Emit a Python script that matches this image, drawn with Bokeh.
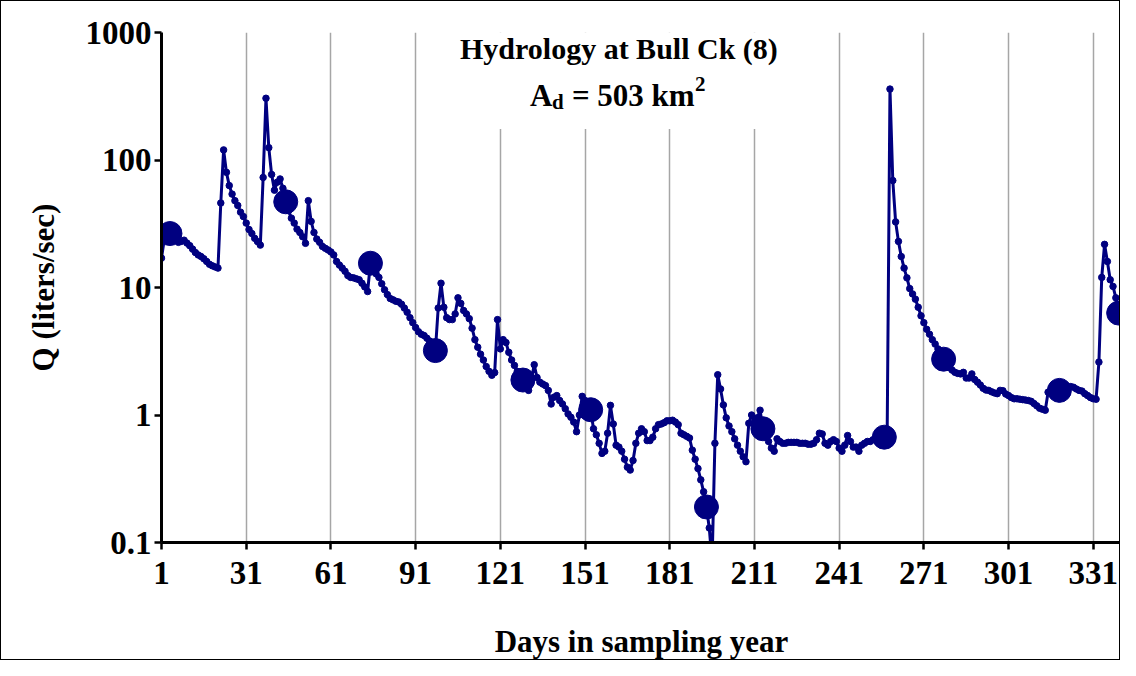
from bokeh.plotting import figure
from bokeh.models import (Range1d, FixedTicker, Label, BoxAnnotation,
                          ColumnDataSource, CustomJSTickFormatter)
from bokeh.embed import file_html
from bokeh.resources import INLINE

# ---------------- data ----------------
flow = [
    17, 24, 26, 26.5, 25, 23.5, 22.6, 23, 23.5, 22.3,
    21.3, 20, 18.8, 18, 17.5, 16.8, 16, 15.2, 14.8, 14.5,
    14.2, 46, 120, 80, 63, 54, 48, 44, 39, 36,
    32, 28.5, 26.5, 24.3, 22.9, 21.5, 73, 305, 125, 77,
    58, 67, 71, 60, 47, 40, 35, 32, 28.7, 27,
    25, 22.2, 48, 33, 27, 24, 22.6, 21, 20.3, 19.7,
    19, 18, 16, 15, 14.2, 13.4, 12.4, 12, 11.9, 11.7,
    11.5, 10.8, 10.1, 9.3, 15.5, 13.5, 12.8, 12, 10.7, 9.6,
    8.8, 8.2, 8, 7.8, 7.7, 7.4, 6.9, 6.4, 5.8, 5.3,
    4.85, 4.5, 4.3, 4.2, 4, 3.8, 3.3, 3.2, 6.9, 10.8,
    7, 5.8, 5.6, 5.6, 6.2, 8.3, 7.5, 6.6, 6.2, 5.7,
    4.8, 3.9, 3.4, 3, 2.7, 2.4, 2.2, 2.05, 2.15, 5.6,
    3.3, 3.9, 3.7, 3.1, 2.7, 2.45, 2.2, 2, 1.88, 1.7,
    1.56, 1.9, 2.48, 1.97, 1.81, 1.75, 1.7, 1.56, 1.22, 1.38,
    1.42, 1.3, 1.22, 1.12, 1.02, 0.96, 0.88, 0.74, 1.0, 1.4,
    1.3, 1.2, 1.1, 0.78, 0.7, 0.6, 0.5, 0.52, 0.72, 1.19,
    0.85, 0.58, 0.56, 0.52, 0.45, 0.39, 0.37, 0.44, 0.6, 0.72,
    0.78, 0.74, 0.63, 0.63, 0.67, 0.78, 0.84, 0.85, 0.87, 0.9,
    0.9, 0.91, 0.88, 0.84, 0.72, 0.7, 0.68, 0.66, 0.53, 0.45,
    0.38, 0.31, 0.25, 0.19, 0.13, 0.07, 0.6, 2.07, 1.6, 1.2,
    0.95, 0.82, 0.74, 0.65, 0.58, 0.52, 0.47, 0.43, 0.86, 1.0,
    0.88, 0.95, 1.09, 0.78, 0.75, 0.62, 0.55, 0.52, 0.65, 0.62,
    0.6, 0.6, 0.61, 0.61, 0.61, 0.61, 0.6, 0.6, 0.6, 0.59,
    0.59, 0.6, 0.64, 0.72, 0.71, 0.6, 0.58, 0.62, 0.64, 0.62,
    0.55, 0.52, 0.58, 0.69, 0.62, 0.56, 0.56, 0.52, 0.58, 0.6,
    0.62, 0.62, 0.64, 0.65, 0.66, 0.67, 0.67, 0.68, 360, 69,
    32.7, 23, 17.5, 14.2, 11.9, 9.8, 8.9, 8.1, 7, 6,
    5.3, 4.7, 4.3, 3.9, 3.6, 3.3, 3, 2.74, 2.5, 2.35,
    2.25, 2.16, 2.12, 2.1, 2.16, 1.95, 1.95, 2.1, 1.9, 1.81,
    1.72, 1.62, 1.57, 1.56, 1.52, 1.49, 1.47, 1.56, 1.55, 1.46,
    1.42, 1.37, 1.34, 1.34, 1.33, 1.32, 1.31, 1.3, 1.28, 1.23,
    1.18, 1.13, 1.11, 1.09, 1.51, 1.53, 1.55, 1.56, 1.56, 1.58,
    1.62, 1.66, 1.67, 1.65, 1.6, 1.56, 1.54, 1.47, 1.42, 1.37,
    1.34, 1.33, 2.6, 12, 21.8, 16, 11.5, 10.2, 8.3, 6.3,
]
days = list(range(1, len(flow) + 1))

sample_days = [4, 45, 75, 98, 129, 153, 194, 214, 257, 278, 319, 340]
sample_flow = [26.5, 47, 15.5, 3.2, 1.88, 1.1, 0.19, 0.78, 0.67, 2.74, 1.56, 6.3]

x_ticks = [1, 31, 61, 91, 121, 151, 181, 211, 241, 271, 301, 331]
y_ticks = [0.1, 1, 10, 100, 1000]

title_text = "Hydrology at Bull Ck (8)"
area_main = "A"
area_sub = "d"
area_rest = "= 503 km"
area_sup = "2"
x_label = "Days in sampling year"
y_label = "Q (liters/sec)"

# ---------------- figure ----------------
NAVY = "#000080"
FONT = "Liberation Serif"

p = figure(width=1120, height=660, y_axis_type="log",
           x_range=Range1d(1, 341), y_range=Range1d(0.1, 1000),
           output_backend="svg", toolbar_location=None,
           min_border_left=160, min_border_top=31,
           min_border_bottom=113, min_border_right=0)
p.styles = {"border": "1px solid black"}
p.outline_line_color = None
p.background_fill_color = "white"
p.border_fill_color = "white"

src = ColumnDataSource(dict(day=days, q=flow))
smp = ColumnDataSource(dict(day=sample_days, q=sample_flow))

p.line("day", "q", source=src, line_color=NAVY, line_width=3)
p.scatter("day", "q", source=src, size=6.5, color=NAVY)
p.scatter("day", "q", source=smp, size=24, color=NAVY)

# axes
for ax in (p.xaxis[0], p.yaxis[0]):
    ax.axis_line_width = 3
    ax.axis_line_color = "black"
    ax.major_tick_line_width = 2.5
    ax.major_tick_line_color = "black"
    ax.major_tick_out = 7
    ax.major_tick_in = 0
    ax.minor_tick_line_color = None
    ax.major_label_text_font = FONT
    ax.major_label_text_font_style = "bold"
    ax.major_label_text_font_size = "33px"
    ax.major_label_text_color = "black"
    ax.axis_label_text_font = FONT
    ax.axis_label_text_font_style = "bold"
    ax.axis_label_text_font_size = "31px"
    ax.axis_label_text_color = "black"

p.xaxis.ticker = FixedTicker(ticks=x_ticks)
p.yaxis.ticker = FixedTicker(ticks=y_ticks)
p.yaxis.formatter = CustomJSTickFormatter(code="return tick.toString();")
p.xaxis.major_label_standoff = 12
p.yaxis.major_label_standoff = 3
p.xaxis.axis_label = x_label
p.yaxis.axis_label = y_label
p.xaxis.axis_label_standoff = 37
p.yaxis.axis_label_standoff = 22

p.xgrid.ticker = FixedTicker(ticks=x_ticks)
p.xgrid.grid_line_color = "#a6a6a6"
p.xgrid.grid_line_width = 1.5
p.ygrid.grid_line_color = None

# white box behind the title (hides grid lines)
p.add_layout(BoxAnnotation(left=100, right=225, bottom=175, top=1000,
                           fill_color="white", fill_alpha=1.0,
                           line_color=None))

TX = 163
Y1 = 750
Y2 = 322
p.add_layout(Label(x=TX, y=Y1, text=title_text, text_align="center",
                   text_baseline="alphabetic", text_font=FONT,
                   text_font_style="bold", text_font_size="30px",
                   text_color="black"))
p.add_layout(Label(x=TX, y=Y2, x_offset=-89, text=area_main,
                   text_align="left", text_baseline="alphabetic",
                   text_font=FONT, text_font_style="bold",
                   text_font_size="31px", text_color="black"))
p.add_layout(Label(x=TX, y=Y2, x_offset=-67, y_offset=-7, text=area_sub,
                   text_align="left", text_baseline="alphabetic",
                   text_font=FONT, text_font_style="bold",
                   text_font_size="21px", text_color="black"))
p.add_layout(Label(x=TX, y=Y2, x_offset=-47, text=area_rest,
                   text_align="left", text_baseline="alphabetic",
                   text_font=FONT, text_font_style="bold",
                   text_font_size="31px", text_color="black"))
p.add_layout(Label(x=TX, y=Y2, x_offset=76, y_offset=11, text=area_sup,
                   text_align="left", text_baseline="alphabetic",
                   text_font=FONT, text_font_style="bold",
                   text_font_size="21px", text_color="black"))

open("out.html", "w").write(file_html(p, INLINE))
